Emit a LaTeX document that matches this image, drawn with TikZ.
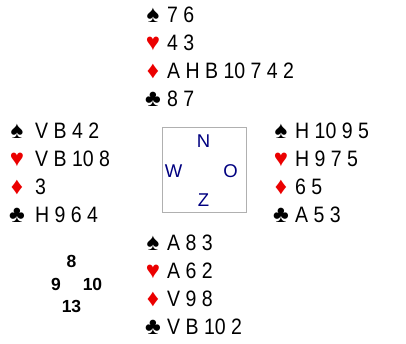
\documentclass[tikz,border=0pt]{standalone}
\usepackage{fontspec}
\setmainfont{Liberation Sans}
\newfontfamily\handfont[FakeStretch=0.875]{Liberation Sans}
\definecolor{suitred}{RGB}{235,0,0}
\definecolor{compass}{RGB}{0,0,128}
\definecolor{boxgray}{RGB}{176,176,176}
\begin{document}
\begin{tikzpicture}[x=1pt,y=-1pt,
  handtext/.style={anchor=base west,inner sep=0pt,font=\handfont\fontsize{22.3}{22.3}\selectfont},
  suitsym/.style={anchor=base,inner sep=0pt,font=\fontsize{24}{24}\selectfont},
  redsuit/.style={suitsym,text=suitred},
  blacksuit/.style={suitsym,text=black},
  dirletter/.style={inner sep=0pt,text=compass,font=\fontsize{18.5}{18.5}\selectfont},
  tricks/.style={inner sep=0pt,font=\bfseries\fontsize{17.5}{17.5}\selectfont}]
\useasboundingbox (0,0) rectangle (406,343);
% North
\node[blacksuit] (ns) at (153,22.5) {♠};
\node[handtext] (nst) at (167,22.5) {7 6};
\node[redsuit] (nh) at (153,50.5) {♥};
\node[handtext] (nht) at (167,50.5) {4 3};
\node[redsuit] (nd) at (153,78.5) {♦};
\node[handtext] (ndt) at (167,78.5) {A H B 10 7 4 2};
\node[blacksuit] (nc) at (153,106.5) {♣};
\node[handtext] (nct) at (167,106.5) {8 7};
% West
\node[blacksuit] (ws) at (17,138) {♠};
\node[handtext] (wst) at (35,138) {V B 4 2};
\node[redsuit] (wh) at (17,166) {♥};
\node[handtext] (wht) at (35,166) {V B 10 8};
\node[redsuit] (wd) at (17,194) {♦};
\node[handtext] (wdt) at (35,194) {3};
\node[blacksuit] (wc) at (17,222) {♣};
\node[handtext] (wct) at (35,222) {H 9 6 4};
% East
\node[blacksuit] (es) at (281,138) {♠};
\node[handtext] (est) at (295,138) {H 10 9 5};
\node[redsuit] (eh) at (281,166) {♥};
\node[handtext] (eht) at (295,166) {H 9 7 5};
\node[redsuit] (ed) at (281,194) {♦};
\node[handtext] (edt) at (295,194) {6 5};
\node[blacksuit] (ec) at (281,222) {♣};
\node[handtext] (ect) at (295,222) {A 5 3};
% South
\node[blacksuit] (ss) at (153,250.5) {♠};
\node[handtext] (sst) at (167,250.5) {A 8 3};
\node[redsuit] (sh) at (153,278.5) {♥};
\node[handtext] (sht) at (167,278.5) {A 6 2};
\node[redsuit] (sd) at (153,306.5) {♦};
\node[handtext] (sdt) at (167,306.5) {V 9 8};
\node[blacksuit] (sc) at (153,334.5) {♣};
\node[handtext] (sct) at (167,334.5) {V B 10 2};
% Compass box
\draw[boxgray,line width=0.8pt] (162,127.5) rectangle (246.5,212);
\node[dirletter] (dn) at (203.5,141.5) {N};
\node[dirletter] (dw) at (173.5,171) {W};
\node[dirletter] (do) at (230.5,171) {O};
\node[dirletter] (dz) at (203.5,200) {Z};
% Tricks
\node[tricks] (t8) at (71.5,261) {8};
\node[tricks] (t9) at (56,284) {9};
\node[tricks] (t10) at (92.5,284) {10};
\node[tricks] (t13) at (71.5,306) {13};
\end{tikzpicture}
\end{document}
